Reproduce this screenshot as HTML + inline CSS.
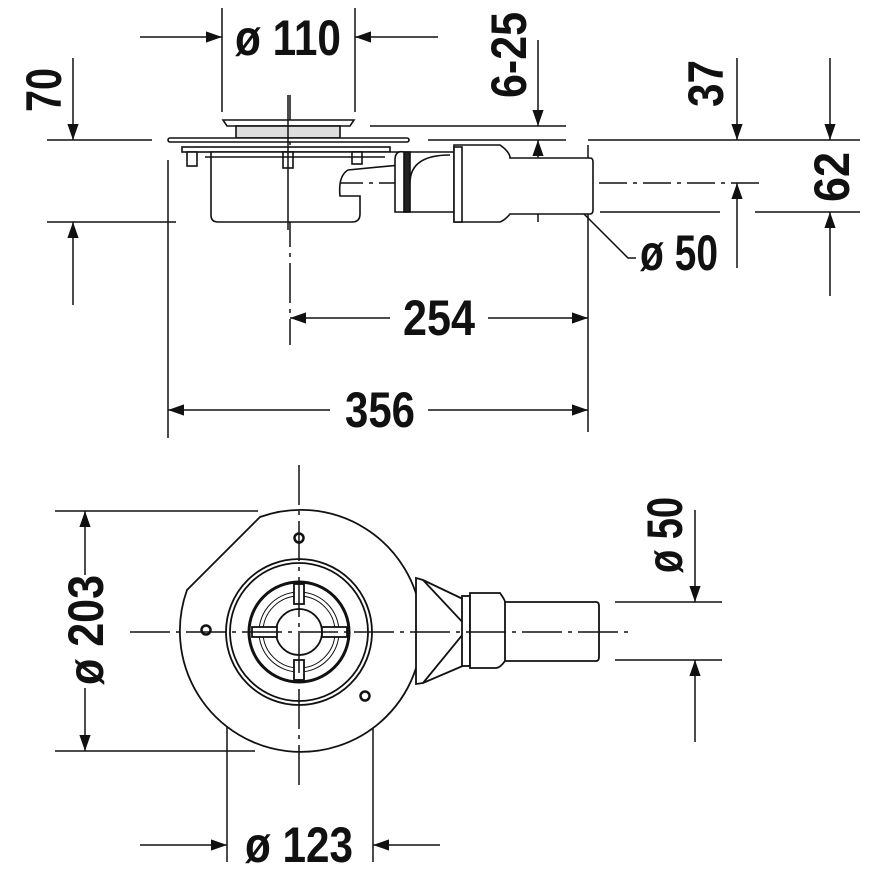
<!DOCTYPE html>
<html><head><meta charset="utf-8"><style>
html,body{margin:0;padding:0;background:#fff}
svg{display:block}
text{font-family:"Liberation Sans",sans-serif;font-weight:bold;font-size:50px;fill:#111}
</style></head><body>
<svg width="889" height="889" viewBox="0 0 889 889" xmlns="http://www.w3.org/2000/svg">
<defs>
<marker id="a" viewBox="0 0 10 10" refX="10" refY="5" markerWidth="16" markerHeight="16" markerUnits="userSpaceOnUse" orient="auto"><path d="M0,1.5 L10,5 L0,8.5 Z" fill="#111"/></marker>
</defs>
<g stroke="#111" stroke-width="1.5" fill="none">
<line x1="222" y1="8" x2="222" y2="112"/>
<line x1="355" y1="8" x2="355" y2="112"/>
<line x1="140" y1="37" x2="222" y2="37" marker-end="url(#a)"/>
<line x1="438" y1="37" x2="355" y2="37" marker-end="url(#a)"/>
<line x1="47" y1="140" x2="152" y2="140"/>
<line x1="47" y1="222" x2="176" y2="222"/>
<line x1="73" y1="58" x2="73" y2="140" marker-end="url(#a)"/>
<line x1="73" y1="305" x2="73" y2="222" marker-end="url(#a)"/>
<line x1="370" y1="126" x2="566" y2="126"/>
<line x1="428" y1="140" x2="566" y2="140"/>
<line x1="538" y1="40" x2="538" y2="126" marker-end="url(#a)"/>
<line x1="538" y1="222" x2="538" y2="140" marker-end="url(#a)"/>
<line x1="588" y1="140" x2="860" y2="140"/>
<line x1="600" y1="212" x2="720" y2="212"/>
<line x1="755" y1="212" x2="860" y2="212"/>
<line x1="737" y1="58" x2="737" y2="140" marker-end="url(#a)"/>
<line x1="737" y1="268" x2="737" y2="183" marker-end="url(#a)"/>
<line x1="830" y1="58" x2="830" y2="140" marker-end="url(#a)"/>
<line x1="830" y1="296" x2="830" y2="212" marker-end="url(#a)"/>
<line x1="335" y1="183" x2="765" y2="183" stroke-dasharray="28,6,4,6"/>
<polyline points="568,198 628,258 636,258"/>
<line x1="290" y1="95" x2="290" y2="345" stroke-dasharray="40,6,4,6"/>
<line x1="588" y1="145" x2="588" y2="432"/>
<line x1="168" y1="160" x2="168" y2="438"/>
<line x1="390" y1="318" x2="290" y2="318" marker-end="url(#a)"/>
<line x1="488" y1="318" x2="588" y2="318" marker-end="url(#a)"/>
<line x1="330" y1="410" x2="168" y2="410" marker-end="url(#a)"/>
<line x1="428" y1="410" x2="588" y2="410" marker-end="url(#a)"/>
</g>
<g stroke="#111" stroke-width="1.6" fill="#fff">
<path d="M223,120 L354,120 L350,126 L227,126 Z"/>
<rect x="236" y="126" width="104" height="12" fill="#ddd"/>
<rect x="168" y="138" width="241" height="4" rx="2"/>
<rect x="182" y="147" width="208" height="5"/>
<path d="M211,152 L211,215 Q211,222 218,222 L352,222 Q360,222 360,214 L360,196 L340,196 Q338,176 348,170 L400,165 L400,152 Z"/>
<rect x="187" y="152" width="10" height="14"/>
<rect x="283" y="152" width="10" height="16"/>
<rect x="352" y="152" width="10" height="12"/>
<line x1="205" y1="157" x2="385" y2="157"/>
<path d="M404,152 Q395,150 395,160 L395,212 L455,212 L455,152 Z"/>
<rect x="404" y="152" width="6" height="60" fill="#222"/>
<path d="M410,183 Q410,155 450,155"/>
<path d="M454,145 L500,145 Q510,152 510,158 L590,158 Q593,158 593,162 L593,210 Q593,214 590,214 L510,214 Q505,220 500,222 L454,222 Z"/>
<rect x="454" y="147" width="8" height="75"/>
</g>
<line x1="288" y1="95" x2="288" y2="230" stroke="#111" stroke-width="1.5"/>
<text x="235" y="55" textLength="106" lengthAdjust="spacingAndGlyphs">ø 110</text>
<text transform="translate(61,68) rotate(-90)" x="-44" y="0" textLength="44" lengthAdjust="spacingAndGlyphs">70</text>
<text transform="translate(526,12) rotate(-90)" x="-86" y="0" textLength="86" lengthAdjust="spacingAndGlyphs">6-25</text>
<text transform="translate(723,60) rotate(-90)" x="-47" y="0" textLength="47" lengthAdjust="spacingAndGlyphs">37</text>
<text transform="translate(849,152) rotate(-90)" x="-50" y="0" textLength="50" lengthAdjust="spacingAndGlyphs">62</text>
<text x="640" y="270" textLength="78" lengthAdjust="spacingAndGlyphs">ø 50</text>
<text x="403" y="335" textLength="72" lengthAdjust="spacingAndGlyphs">254</text>
<text x="345" y="427" textLength="70" lengthAdjust="spacingAndGlyphs">356</text>

<g stroke="#111" stroke-width="1.5" fill="none">
<line x1="55" y1="511" x2="258" y2="511"/>
<line x1="55" y1="751" x2="255" y2="751"/>
<line x1="85" y1="575" x2="85" y2="511" marker-end="url(#a)"/>
<line x1="85" y1="688" x2="85" y2="751" marker-end="url(#a)"/>
<line x1="227" y1="672" x2="227" y2="862"/>
<line x1="373" y1="672" x2="373" y2="862"/>
<line x1="140" y1="845" x2="227" y2="845" marker-end="url(#a)"/>
<line x1="440" y1="845" x2="373" y2="845" marker-end="url(#a)"/>
<line x1="615" y1="602" x2="722" y2="602"/>
<line x1="615" y1="660" x2="722" y2="660"/>
<line x1="695" y1="510" x2="695" y2="602" marker-end="url(#a)"/>
<line x1="695" y1="742" x2="695" y2="660" marker-end="url(#a)"/>
</g>
<g stroke="#111" stroke-width="1.8" fill="#fff">
<path d="M260,517 A121,121 0 1 1 187,590 Z"/>
<circle cx="299" cy="632" r="73"/>
<circle cx="299" cy="632" r="69"/>
<circle cx="299" cy="632" r="50" stroke-width="3"/>
<circle cx="299" cy="632" r="40" stroke-width="1"/>
<circle cx="299" cy="632" r="36" stroke-width="1"/>
<circle cx="299" cy="632" r="23"/>
<rect x="294" y="584" width="10" height="20"/>
<rect x="294" y="660" width="10" height="20"/>
<rect x="252" y="627" width="25" height="10"/>
<rect x="322" y="627" width="25" height="10"/>
<circle cx="299" cy="538" r="4.5" stroke-width="2.5"/>
<circle cx="206" cy="630" r="4.5" stroke-width="2.5"/>
<circle cx="365" cy="696" r="4.5" stroke-width="2.5"/>
<path d="M416,578 L423,580 L465,600 L465,665 L423,683 L416,684 Z"/>
<path d="M423,580 L468,628 L423,683"/>
<rect x="462" y="596" width="8" height="70"/>
<path d="M470,593 L500,593 Q505,600 505,602 L596,602 Q599,602 599,606 L599,657 Q599,661 596,661 L505,661 Q500,668 496,668 L470,668 Z"/>
<line x1="505" y1="602" x2="505" y2="661"/>
</g>
<g stroke="#111" stroke-width="1.5">
<line x1="130" y1="632" x2="632" y2="632" stroke-dasharray="40,6,4,6"/>
<line x1="299" y1="465" x2="299" y2="790" stroke-dasharray="40,6,4,6"/>
</g>
<text transform="translate(103,575) rotate(-90)" x="-110" y="0" textLength="110" lengthAdjust="spacingAndGlyphs">ø 203</text>
<text x="245" y="862" textLength="108" lengthAdjust="spacingAndGlyphs">ø 123</text>
<text transform="translate(682,497) rotate(-90)" x="-76" y="0" textLength="76" lengthAdjust="spacingAndGlyphs">ø 50</text>
</svg>
</body></html>
